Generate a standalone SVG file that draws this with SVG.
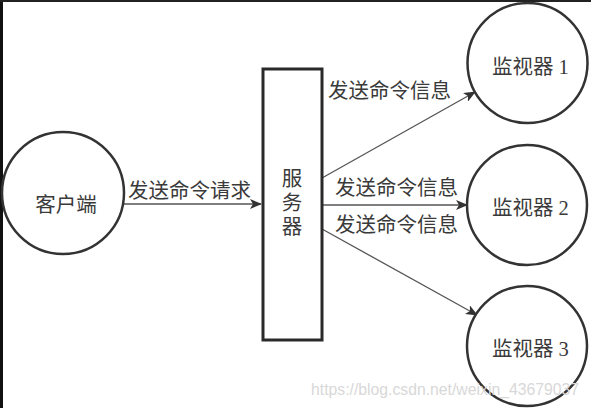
<svg xmlns="http://www.w3.org/2000/svg" width="591" height="408" viewBox="0 0 591 408">
<style>
.node{fill:#fff;stroke:#333;stroke-width:2.5}
.box{fill:#fff;stroke:#2a2a2a;stroke-width:3}
.t{font-family:"Liberation Serif","Noto Sans CJK SC",serif;font-size:20.5px;fill:#3a3a3a}
.c{text-anchor:middle}
.edge{stroke:#555;stroke-width:1.3;fill:none}
.wm{font-family:"Liberation Sans",Arial,sans-serif;font-size:16px;fill:#d8d8d8}
</style>
<defs>
<marker id="ah" viewBox="0 0 12 10" refX="11" refY="5" markerWidth="12" markerHeight="10" markerUnits="userSpaceOnUse" orient="auto">
<path d="M0,0 L12,5 L0,10 L3,5 Z" fill="#333"/>
</marker>
</defs>
<rect x="0" y="0" width="591" height="408" fill="#fff"/>
<rect x="0" y="0" width="3" height="408" fill="#111"/>
<rect x="0" y="0" width="591" height="2" fill="#222"/>
<g id="connectors">
<line class="edge" x1="124" y1="204" x2="261" y2="204" marker-end="url(#ah)"/>
<line class="edge" x1="322" y1="178" x2="475" y2="92" marker-end="url(#ah)"/>
<line class="edge" x1="322" y1="205" x2="467" y2="205" marker-end="url(#ah)"/>
<line class="edge" x1="322" y1="229" x2="477" y2="315" marker-end="url(#ah)"/>
<text class="t" x="128" y="198">发送命令请求</text>
<text class="t" x="328" y="98">发送命令信息</text>
<text class="t" x="335" y="195">发送命令信息</text>
<text class="t" x="335" y="232">发送命令信息</text>
</g>
<g id="client">
<circle class="node" cx="63" cy="193" r="61"/>
<text class="t c" x="66" y="212">客户端</text>
</g>
<g id="server">
<rect class="box" x="263" y="69" width="59" height="271"/>
<text class="t c" x="292" y="186">服</text>
<text class="t c" x="292" y="210">务</text>
<text class="t c" x="292" y="234">器</text>
</g>
<g id="monitor1">
<circle class="node" cx="527.5" cy="63" r="60"/>
<text class="t" x="492" y="74">监视器 1</text>
</g>
<g id="monitor2">
<circle class="node" cx="527" cy="205" r="60"/>
<text class="t" x="492" y="215">监视器 2</text>
</g>
<g id="monitor3">
<circle class="node" cx="527" cy="346" r="60"/>
<text class="t" x="492" y="356">监视器 3</text>
</g>
<text class="wm" x="311" y="395" textLength="268" lengthAdjust="spacingAndGlyphs">https://blog.csdn.net/weixin_43679037</text>
</svg>
